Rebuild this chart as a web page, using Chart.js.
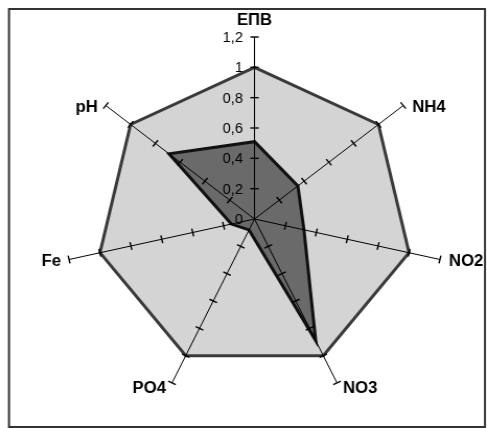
<!DOCTYPE html>
<html>
<head>
<meta charset="utf-8">
<script src="https://cdn.jsdelivr.net/npm/chart.js@4.4.0/dist/chart.umd.min.js"></script>
<style>
  html, body { margin: 0; padding: 0; background: #fff; }
  canvas { display: block; }
</style>
</head>
<body>
<!-- the source picture is slightly wider than tall, so the canvas is stretched a bit -->
<canvas id="chart-1" width="466" height="428" style="width:487px;height:428px"></canvas>
<script>
const labels = ['ЕПВ', 'NH4', 'NO2', 'NO3', 'PO4', 'Fe', 'pH'];
const limitValues = [1, 1, 1, 1, 1, 1, 1];
const sampleValues = [0.51, 0.35, 0.32, 0.89, 0.08, 0.15, 0.69];
const tickValues = [0, 0.2, 0.4, 0.6, 0.8, 1, 1.2];
const tickLabels = ['0', '0,2', '0,4', '0,6', '0,8', '1', '1,2'];

const stretch = 487 / 466;
const fontName = '"Liberation Sans", Arial, sans-serif';

// axes, tick marks and labels drawn on top of the filled areas
const radarAxes = {
    id: 'radarAxes',
    afterDatasetsDraw(chart) {
        const ctx = chart.ctx;
        const r = chart.scales.r;
        const topValue = tickValues[tickValues.length - 1];
        ctx.save();
        ctx.strokeStyle = '#000';
        labels.forEach((lab, i) => {
            const end = r.getPointPositionForValue(i, topValue);
            ctx.lineWidth = 1;
            ctx.beginPath();
            ctx.moveTo(r.xCenter, r.yCenter);
            ctx.lineTo(end.x, end.y);
            ctx.stroke();
            const px = -Math.sin(end.angle);
            const py = Math.cos(end.angle);
            ctx.lineWidth = 1.4;
            tickValues.forEach(v => {
                if (v === 0) return;
                const p = r.getPointPositionForValue(i, v);
                ctx.beginPath();
                ctx.moveTo(p.x - 4 * px, p.y - 4 * py);
                ctx.lineTo(p.x + 4 * px, p.y + 4 * py);
                ctx.stroke();
            });
        });

        ctx.fillStyle = '#000';
        ctx.font = '14px ' + fontName;
        ctx.textAlign = 'right';
        ctx.textBaseline = 'middle';
        tickValues.forEach((v, k) => {
            const p = r.getPointPositionForValue(0, v);
            ctx.fillText(tickLabels[k], r.xCenter - 11, p.y + 1);
        });

        ctx.font = 'bold 16px ' + fontName;
        ctx.textBaseline = 'alphabetic';
        labels.forEach((lab, i) => {
            const end = r.getPointPositionForValue(i, topValue);
            const dx = end.x - r.xCenter;
            const dy = end.y - r.yCenter;
            if (Math.abs(dx) < 1) {
                ctx.textAlign = 'center';
                ctx.fillText(lab, end.x, end.y - 12.5);
            } else if (dy > 100) {
                ctx.textAlign = dx > 0 ? 'left' : 'right';
                ctx.fillText(lab, end.x + (dx > 0 ? 6 : -6) / stretch, end.y + 10);
            } else {
                ctx.textAlign = dx > 0 ? 'left' : 'right';
                ctx.fillText(lab, end.x + (dx > 0 ? 9 : -8) / stretch, end.y + 6.5);
            }
        });
        ctx.restore();
    },
    afterDraw(chart) {
        const ctx = chart.ctx;
        ctx.save();
        ctx.strokeStyle = '#333';
        ctx.lineWidth = 2;
        ctx.strokeRect(9 / stretch, 9, 476 / stretch, 418);
        ctx.restore();
    }
};

const radar1 = document.getElementById('chart-1');
const radar_1 = new Chart(radar1, {
    type: 'radar',
    data: {
        labels: labels,
        datasets: [{
            label: 'sample',
            data: sampleValues,
            backgroundColor: '#6a6a6a',
            borderColor: '#111',
            borderWidth: 3,
            fill: true
        }, {
            label: 'limit',
            data: limitValues,
            backgroundColor: '#d4d4d4',
            borderColor: '#3a3a3a',
            borderWidth: 3,
            fill: true
        }]
    },
    options: {
        responsive: false,
        animation: false,
        elements: {
            line: { tension: 0, borderJoinStyle: 'miter' },
            point: { radius: 0, hoverRadius: 0 }
        },
        scales: {
            r: {
                min: 0,
                max: 1.2,
                ticks: { display: false, stepSize: 0.2 },
                grid: { display: false },
                angleLines: { display: false },
                pointLabels: { display: false },
                afterFit: function(scale) {
                    scale.xCenter = 254.5 / stretch;
                    scale.yCenter = 219;
                    scale.drawingArea = 182;
                }
            }
        },
        plugins: {
            legend: { display: false },
            tooltip: { enabled: false }
        }
    },
    plugins: [radarAxes]
});
</script>
</body>
</html>
